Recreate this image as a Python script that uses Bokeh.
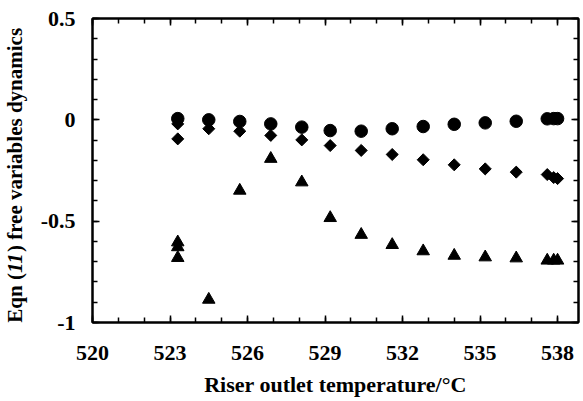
import math
from bokeh.plotting import figure
from bokeh.models import LinearAxis, FixedTicker, Range1d
from bokeh.layouts import row
from bokeh.core.properties import value
from bokeh.embed import file_html
from bokeh.resources import INLINE

# ---- data ----
circle_x = [523.3, 524.5, 525.7, 526.9, 528.1, 529.2, 530.4, 531.6, 532.8,
            534.0, 535.2, 536.4, 537.6, 537.85, 538.0]
circle_y = [0.006, 0.0, -0.008, -0.02, -0.036, -0.053, -0.056, -0.044, -0.033,
            -0.022, -0.015, -0.007, 0.005, 0.006, 0.006]

diamond_x = [523.3, 523.3, 524.5, 525.7, 526.9, 528.1, 529.2, 530.4, 531.6,
             532.8, 534.0, 535.2, 536.4, 537.6, 537.85, 538.0]
diamond_y = [-0.02, -0.094, -0.044, -0.056, -0.077, -0.099, -0.127, -0.151, -0.171,
             -0.197, -0.222, -0.242, -0.258, -0.27, -0.285, -0.29]

triangle_x = [523.3, 523.3, 523.3, 524.5, 525.7, 526.9, 528.1, 529.2, 530.4,
              531.6, 532.8, 534.0, 535.2, 536.4, 537.6, 537.85, 538.0]
triangle_y = [-0.604, -0.628, -0.681, -0.887, -0.349, -0.192, -0.308, -0.484, -0.567,
              -0.617, -0.648, -0.67, -0.678, -0.683, -0.694, -0.694, -0.694]

x_major = [520, 523, 526, 529, 532, 535, 538]
x_major_labels = ["520", "523", "526", "529", "532", "535", "538"]
x_minor = [520, 521, 522, 523, 524, 525, 526, 527, 528, 529, 530, 531, 532,
           533, 534, 535, 536, 537, 538]
y_major = [-1, -0.5, 0, 0.5]
y_major_labels = ["-1", "-0.5", "0", "0.5"]
y_minor = [-1.0, -0.9, -0.8, -0.7, -0.6, -0.5, -0.4, -0.3, -0.2, -0.1, 0.0,
           0.1, 0.2, 0.3, 0.4, 0.5]

x_title = "Riser outlet temperature/°C"
y_title_parts = ["Eqn (", "11", " ) free variables dynamics"]
y_title_styles = ["bold", "bold italic", "bold"]

FONT = "Liberation Serif"
X0, X1 = 520, 538.81
Y0, Y1 = -1, 0.5
W, H = 583, 401
TW = 36                                    # width of the y-title strip
FL, FT, FR, FB = 92, 18, 578, 322          # frame edges in page pixels

# ---------------- y-title strip (its frame lines up with the main frame) ----------------
tf = figure(width=TW, height=H, x_range=Range1d(0, TW), y_range=Range1d(FB, FT),
            output_backend="svg", toolbar_location=None,
            x_axis_type=None, y_axis_type=None,
            min_border_left=0, min_border_right=0, min_border_top=FT,
            min_border_bottom=H - FB)
tf.outline_line_color = None
tf.xgrid.visible = False
tf.ygrid.visible = False

em = 21
widths = [2.362 * em, 1.0 * em, 10.943 * em]
total = sum(widths)
start = (FB + FT) / 2 + total / 2 + 2      # page y where the title starts (bottom)
for txt, w, st in zip(y_title_parts, widths, y_title_styles):
    tf.text(x=[14], y=[start], text=[txt], angle=math.pi / 2,
            text_align="left", text_baseline="alphabetic",
            text_font=value(FONT), text_font_style=value(st),
            text_font_size=value(f"{em}px"), text_color="black")
    start -= w

# ---------------- main plot ----------------
p = figure(width=W - TW, height=H,
           x_range=Range1d(X0, X1), y_range=Range1d(Y0, Y1),
           output_backend="svg", toolbar_location=None,
           min_border_left=FL - TW, min_border_top=FT, min_border_right=W - FR,
           min_border_bottom=H - FB)
p.xgrid.visible = False
p.ygrid.visible = False
p.outline_line_color = "black"
p.outline_line_width = 2


def style(ax):
    ax.axis_line_width = 2
    ax.axis_line_color = "black"
    ax.major_tick_in = 7
    ax.major_tick_out = 0
    ax.minor_tick_in = 5
    ax.minor_tick_out = 0
    ax.major_tick_line_width = 1.5
    ax.minor_tick_line_width = 1.5
    ax.major_label_text_font = FONT
    ax.major_label_text_font_style = "bold"
    ax.major_label_text_font_size = "22px"
    ax.major_label_text_color = "black"


xa = p.xaxis[0]
xa.ticker = FixedTicker(ticks=x_major, minor_ticks=x_minor)
xa.major_label_overrides = dict(zip(x_major, x_major_labels))
style(xa)
xa.major_label_standoff = 23
xa.axis_label = x_title
xa.axis_label_text_font = FONT
xa.axis_label_text_font_style = "bold"
xa.axis_label_text_font_size = "22px"
xa.axis_label_text_color = "black"
xa.axis_label_standoff = 9

ya = p.yaxis[0]
ya.ticker = FixedTicker(ticks=y_major, minor_ticks=y_minor)
ya.major_label_overrides = dict(zip(y_major, y_major_labels))
style(ya)
ya.major_label_standoff = 17

top = LinearAxis(ticker=FixedTicker(ticks=x_major, minor_ticks=x_minor))
style(top)
top.major_label_overrides = {t: "" for t in x_major}
top.major_label_standoff = 0
p.add_layout(top, "above")

right = LinearAxis(ticker=FixedTicker(ticks=y_major, minor_ticks=y_minor))
style(right)
right.major_label_overrides = {t: "" for t in y_major}
right.major_label_standoff = 0
p.add_layout(right, "right")

p.scatter(circle_x, circle_y, marker="circle", size=12.5, color="black")
p.scatter(diamond_x, diamond_y, marker="square", angle=math.pi / 4, size=8.5, color="black")
p.scatter(triangle_x, triangle_y, marker="triangle", size=12.5, color="black")

layout = row(tf, p, spacing=0)
open("out.html", "w").write(file_html(layout, INLINE))
